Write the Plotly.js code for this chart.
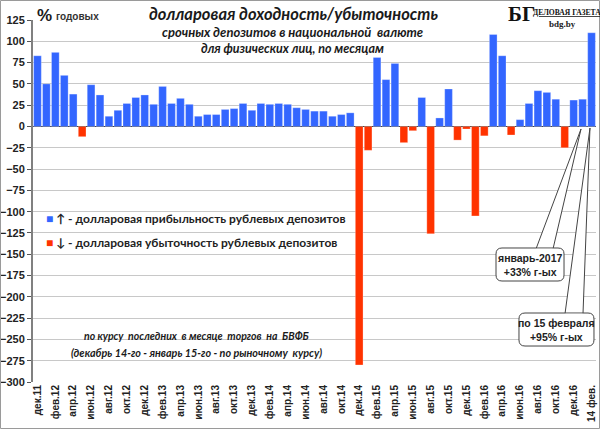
<!DOCTYPE html>
<html>
<head>
<meta charset="utf-8">
<script src="https://cdn.plot.ly/plotly-3.0.1.min.js"></script>
<style>
  html, body { margin: 0; padding: 0; background: #fff; }
  #plot { width: 600px; height: 429px; }
</style>
</head>
<body>
<div id="plot"></div>
<script>
// months, one bar each (Dec 2011 .. Jan 2017, then Feb 14)
var months = [
  'дек.11',
  'янв.12','фев.12','мар.12','апр.12','май.12','июн.12','июл.12','авг.12','сен.12','окт.12','ноя.12','дек.12',
  'янв.13','фев.13','мар.13','апр.13','май.13','июн.13','июл.13','авг.13','сен.13','окт.13','ноя.13','дек.13',
  'янв.14','фев.14','мар.14','апр.14','май.14','июн.14','июл.14','авг.14','сен.14','окт.14','ноя.14','дек.14',
  'янв.15','фев.15','мар.15','апр.15','май.15','июн.15','июл.15','авг.15','сен.15','окт.15','ноя.15','дек.15',
  'янв.16','фев.16','мар.16','апр.16','май.16','июн.16','июл.16','авг.16','сен.16','окт.16','ноя.16','дек.16',
  'янв.17','14 фев.'
];

// dollar yield of ruble deposits, % per year
var values = [
  83,
  50, 87, 60, 38, -12, 49, 37, 12, 19, 27, 34, 37,
  26, 47, 27, 33, 26, 12, 14, 14, 20, 21, 27, 19,
  27, 26, 27, 26, 22, 20, 18, 18, 12, 14, 16, -280,
  -28, 81, 55, 74, -19, -5, 34, -126, 10, 44, -16, -3,
  -105, -11, 108, 83, -10, 8, 27, 42, 40, 32, -25, 31,
  32, 110
];

// every second month gets a label
var tickMonths = months.filter(function(m, i) { return i % 2 === 0; });

var blue = '#3366ff';
var red = '#ff3300';

// pixel -> paper helpers (margins below)
var W = 600, H = 429, L = 33, R = 4, T = 20, B = 47;
var pw = W - L - R, ph = H - T - B;
function px(X) { return (X - L) / pw; }
function py(Y) { return (H - B - Y) / ph; }
function pt(X, Y) { return px(X).toFixed(4) + ',' + py(Y).toFixed(4); }

function rrect(x0, y0, x1, y1, r) {
  return 'M' + pt(x0 + r, y0) + ' L' + pt(x1 - r, y0) + ' Q' + pt(x1, y0) + ' ' + pt(x1, y0 + r) +
    ' L' + pt(x1, y1 - r) + ' Q' + pt(x1, y1) + ' ' + pt(x1 - r, y1) +
    ' L' + pt(x0 + r, y1) + ' Q' + pt(x0, y1) + ' ' + pt(x0, y1 - r) +
    ' L' + pt(x0, y0 + r) + ' Q' + pt(x0, y0) + ' ' + pt(x0 + r, y0) + ' Z';
}

var trace = {
  x: months,
  y: values,
  type: 'bar',
  marker: {
    color: values.map(function(v) { return v < 0 ? red : blue; }),
    line: {color: 'rgba(255,255,255,0.45)', width: 0.6}
  },
  hoverinfo: 'x+y'
};

var sans = 'Liberation Sans, Arial, sans-serif';
var cal = 'Lato, Open Sans, sans-serif';

function note(text, X, Y, opts) {
  var a = {
    text: text, xref: 'paper', yref: 'paper', x: px(X), y: py(Y),
    showarrow: false, xanchor: 'center', yanchor: 'middle',
    font: {family: cal, size: 12, color: '#1a1a1a'}
  };
  for (var k in opts) a[k] = opts[k];
  return a;
}

var annotations = [
  note('<b><i>долларовая доходность/убыточность</i></b>', 293, 14, {font: {family: cal, size: 16.5, color: '#1a1a1a'}}),
  note('<b><i>срочных депозитов в национальной  валюте</i></b>', 292, 32, {font: {family: cal, size: 13, color: '#1a1a1a'}}),
  note('<b><i>для физических лиц, по месяцам</i></b>', 292, 48, {font: {family: cal, size: 12.5, color: '#1a1a1a'}}),
  note('<b>%</b>', 35, 15, {xanchor: 'left', font: {family: sans, size: 17, color: '#1a1a1a'}}),
  note('<b>годовых</b>', 54, 16, {xanchor: 'left', font: {family: sans, size: 10, color: '#333'}}),
  note('<b>БГ</b>', 506, 14, {xanchor: 'left', font: {family: 'Liberation Serif, serif', size: 21, color: '#111'}}),
  note('<b><span style="text-decoration:underline">ДЕЛОВАЯ ГАЗЕТА</span></b>', 531, 12, {xanchor: 'left', font: {family: 'Liberation Serif, serif', size: 7.6, color: '#111'}}),
  note('<b>bdg.by</b>', 562, 24, {font: {family: 'Liberation Serif, serif', size: 9, color: '#222'}}),

  note('<span style="color:' + blue + '">■</span> <b>↑</b> - долларовая прибыльность рублевых депозитов', 44, 218,
    {xanchor: 'left', font: {family: cal, size: 12, color: '#222', weight: 'bold'}}),
  note('<span style="color:' + red + '">■</span> <b>↓</b> - долларовая убыточность рублевых депозитов', 44, 242,
    {xanchor: 'left', font: {family: cal, size: 12, color: '#222', weight: 'bold'}}),

  note('<b><i>по курсу  последних  в месяце  торгов  на  БВФБ</i></b>', 197, 336, {font: {family: cal, size: 10.5, color: '#1a1a1a'}}),
  note('<b><i>(декабрь 14-го - январь 15-го - по рыночному  курсу)</i></b>', 196, 352, {font: {family: cal, size: 10.8, color: '#1a1a1a'}}),

  note('<b>январь-2017</b><br><b>+33% г-ых</b>', 530, 265, {font: {family: sans, size: 10.5, color: '#222'}}),
  note('<b>по 15 февраля</b><br><b>+95% г-ых</b>', 556, 330, {font: {family: sans, size: 10.5, color: '#222'}})
];

var calloutLine = {color: '#444', width: 1};
var shapes = [
  {type: 'path', xref: 'paper', yref: 'paper', path: 'M' + pt(536, 249) + ' L' + pt(581, 129) + ' L' + pt(553, 249) + ' Z',
    fillcolor: '#fff', line: {width: 0}},
  {type: 'path', xref: 'paper', yref: 'paper', path: 'M' + pt(536, 249) + ' L' + pt(581, 129) + ' L' + pt(553, 249),
    line: calloutLine},
  {type: 'path', xref: 'paper', yref: 'paper', path: rrect(496, 248, 564, 281, 6),
    fillcolor: '#fff', line: calloutLine},
  {type: 'path', xref: 'paper', yref: 'paper', path: 'M' + pt(536.5, 249.5) + ' L' + pt(552.5, 249.5),
    line: {color: '#fff', width: 1.5}},

  {type: 'path', xref: 'paper', yref: 'paper', path: 'M' + pt(565, 314) + ' L' + pt(590, 128) + ' L' + pt(583, 314) + ' Z',
    fillcolor: '#fff', line: {width: 0}},
  {type: 'path', xref: 'paper', yref: 'paper', path: 'M' + pt(565, 314) + ' L' + pt(590, 128) + ' L' + pt(583, 314),
    line: calloutLine},
  {type: 'path', xref: 'paper', yref: 'paper', path: rrect(519, 313, 594, 346, 6),
    fillcolor: '#fff', line: calloutLine},
  {type: 'path', xref: 'paper', yref: 'paper', path: 'M' + pt(565.5, 314.5) + ' L' + pt(582.5, 314.5),
    line: {color: '#fff', width: 1.5}},

  {type: 'rect', xref: 'paper', yref: 'paper', x0: px(0.5), x1: px(599.5), y0: py(0.5), y1: py(428.5),
    line: {color: '#9a9a9a', width: 1}, fillcolor: 'rgba(0,0,0,0)'}
];

var layout = {
  width: W,
  height: H,
  margin: {l: L, r: R, t: T, b: B, pad: 0},
  paper_bgcolor: '#fff',
  plot_bgcolor: '#fff',
  showlegend: false,
  bargap: 0.14,
  xaxis: {
    type: 'category',
    categoryorder: 'array',
    categoryarray: months,
    tickmode: 'array',
    tickvals: tickMonths,
    ticktext: tickMonths,
    tickangle: -90,
    tickfont: {family: sans, size: 10, color: '#222', weight: 'bold'},
    showgrid: false,
    zeroline: false,
    showline: false,
    ticks: '',
    fixedrange: true
  },
  yaxis: {
    range: [-300, 125],
    autorange: false,
    tick0: 0,
    dtick: 25,
    showgrid: true,
    gridcolor: '#c8c8c8',
    gridwidth: 1,
    zeroline: true,
    zerolinecolor: '#333',
    zerolinewidth: 1.2,
    showline: true,
    linecolor: '#808080',
    linewidth: 2,
    ticks: 'outside',
    ticklen: 4,
    tickcolor: '#555',
    tickfont: {family: sans, size: 11, color: '#222', weight: 'bold'},
    fixedrange: true
  },
  annotations: annotations,
  shapes: shapes
};

Plotly.newPlot('plot', [trace], layout, {staticPlot: true, displayModeBar: false});
</script>
</body>
</html>
